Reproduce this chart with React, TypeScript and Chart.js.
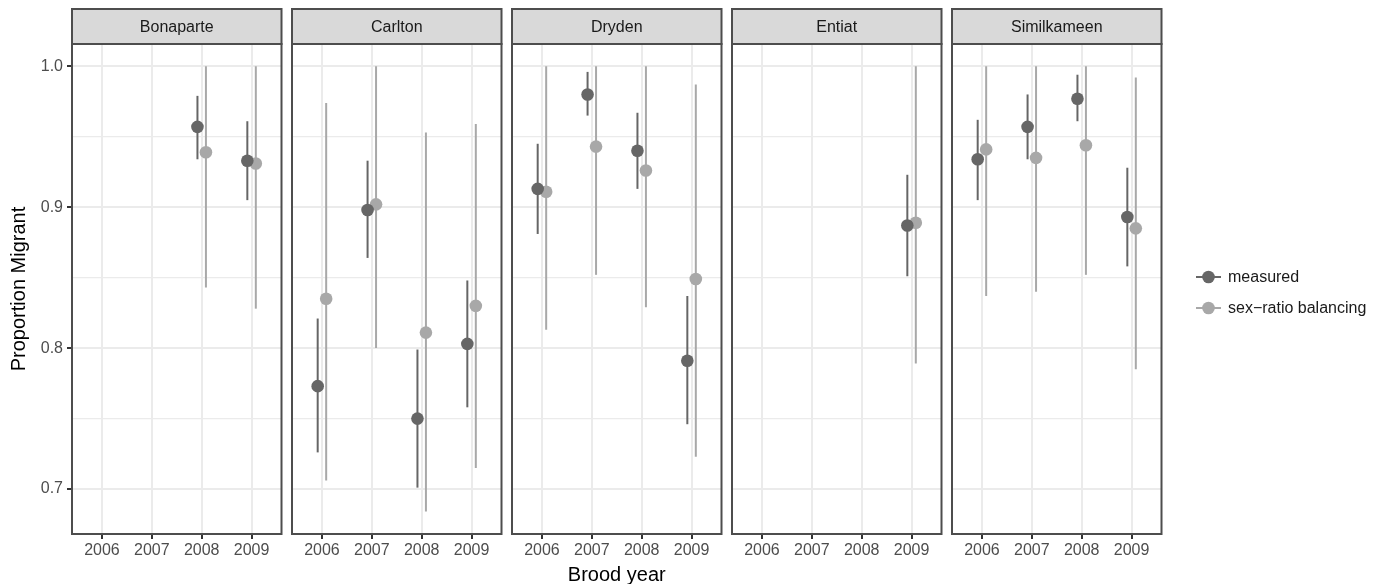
import React, { useEffect, useRef } from 'react';
import { Chart, registerables } from 'chart.js';

Chart.register(...registerables);

// ---------------- data ----------------
const sites = ['Bonaparte', 'Carlton', 'Dryden', 'Entiat', 'Similkameen'];
const years = [2006, 2007, 2008, 2009];
const seriesNames = ['measured', 'sex\u2212ratio balancing'];

// rows = sites, columns = years (null = no estimate)
const measuredEst = [
  [null, null, 0.957, 0.933],
  [0.773, 0.898, 0.750, 0.803],
  [0.913, 0.980, 0.940, 0.791],
  [null, null, null, 0.887],
  [0.934, 0.957, 0.977, 0.893],
];
const measuredLo = [
  [null, null, 0.934, 0.905],
  [0.726, 0.864, 0.701, 0.758],
  [0.881, 0.965, 0.913, 0.746],
  [null, null, null, 0.851],
  [0.905, 0.934, 0.961, 0.858],
];
const measuredHi = [
  [null, null, 0.979, 0.961],
  [0.821, 0.933, 0.799, 0.848],
  [0.945, 0.996, 0.967, 0.837],
  [null, null, null, 0.923],
  [0.962, 0.980, 0.994, 0.928],
];
const sexRatioEst = [
  [null, null, 0.939, 0.931],
  [0.835, 0.902, 0.811, 0.830],
  [0.911, 0.943, 0.926, 0.849],
  [null, null, null, 0.889],
  [0.941, 0.935, 0.944, 0.885],
];
const sexRatioLo = [
  [null, null, 0.843, 0.828],
  [0.706, 0.800, 0.684, 0.715],
  [0.813, 0.852, 0.829, 0.723],
  [null, null, null, 0.789],
  [0.837, 0.840, 0.852, 0.785],
];
const sexRatioHi = [
  [null, null, 1.0, 1.0],
  [0.974, 1.0, 0.953, 0.959],
  [1.0, 1.0, 1.0, 0.987],
  [null, null, null, 1.0],
  [1.0, 1.0, 1.0, 0.992],
];

const yMajorTicks = [0.7, 0.8, 0.9, 1.0];
const yMinorTicks = [0.75, 0.85, 0.95];

// ---------------- layout / style ----------------
const W = 1383;
const H = 584;
const panelLefts = [72, 292, 512, 732, 952];
const panelWidth = 209.5;
const panelTop = 44;
const panelBottom = 534;
const stripTop = 9;
const yMin = 0.6681;
const yMax = 1.0158;
const xMin = 2005.4;
const xMax = 2009.6;
const dodge = 0.085;
const FONT = "'Liberation Sans', Arial, Helvetica, sans-serif";
const DARK = '#666666';
const LIGHT = '#A8A8A8';
const seriesColors = [DARK, LIGHT];
const BORDER = '#4D4D4D';
const GRID = '#EBEBEB';

function buildPoints(est: (number | null)[], lo: (number | null)[], hi: (number | null)[], offset: number) {
  const pts: any[] = [];
  years.forEach((yr, j) => {
    if (est[j] != null) pts.push({ x: yr + offset, y: est[j], lo: lo[j], hi: hi[j] });
  });
  return pts;
}

const errorBarPlugin = {
  id: 'errorBars',
  beforeDatasetsDraw(chart: any) {
    const ctx = chart.ctx;
    const yScale = chart.scales.y;
    ctx.save();
    // draw in reverse dataset order (same as Chart.js point order)
    for (let d = chart.data.datasets.length - 1; d >= 0; d--) {
      const ds = chart.data.datasets[d];
      const meta = chart.getDatasetMeta(d);
      ctx.strokeStyle = ds.borderColor;
      ctx.lineWidth = 2;
      meta.data.forEach((el: any, k: number) => {
        const p = ds.data[k];
        ctx.beginPath();
        ctx.moveTo(el.x, yScale.getPixelForValue(p.lo));
        ctx.lineTo(el.x, yScale.getPixelForValue(p.hi));
        ctx.stroke();
      });
    }
    ctx.restore();
  },
};

const panelDecoPlugin = {
  id: 'panelDeco',
  afterDraw(chart: any, _args: any, opts: any) {
    const ctx = chart.ctx;
    const a = chart.chartArea;
    ctx.save();
    // panel border
    ctx.strokeStyle = BORDER;
    ctx.lineWidth = 2;
    ctx.strokeRect(a.left, a.top, a.right - a.left, a.bottom - a.top);
    // strip
    ctx.fillStyle = '#D9D9D9';
    ctx.fillRect(a.left, stripTop, a.right - a.left, a.top - stripTop);
    ctx.strokeRect(a.left, stripTop, a.right - a.left, a.top - stripTop);
    ctx.fillStyle = '#1A1A1A';
    ctx.font = `16px ${FONT}`;
    ctx.textAlign = 'center';
    ctx.textBaseline = 'middle';
    ctx.fillText(opts.title, (a.left + a.right) / 2, (stripTop + a.top) / 2 + 1);

    if (opts.first) {
      ctx.fillStyle = '#000000';
      ctx.font = `20px ${FONT}`;
      ctx.textAlign = 'center';
      ctx.textBaseline = 'middle';
      ctx.fillText('Brood year', (panelLefts[0] + panelLefts[4] + panelWidth) / 2, 575);
      ctx.save();
      ctx.translate(19, (panelTop + panelBottom) / 2);
      ctx.rotate(-Math.PI / 2);
      ctx.fillText('Proportion Migrant', 0, 0);
      ctx.restore();
    }
    if (opts.last) {
      const rows = [277, 308];
      seriesNames.forEach((name, i) => {
        const y = rows[i];
        ctx.strokeStyle = seriesColors[i];
        ctx.lineWidth = 2;
        ctx.beginPath();
        ctx.moveTo(1196, y);
        ctx.lineTo(1221, y);
        ctx.stroke();
        ctx.fillStyle = seriesColors[i];
        ctx.beginPath();
        ctx.arc(1208.5, y, 6.3, 0, Math.PI * 2);
        ctx.fill();
        ctx.fillStyle = '#1A1A1A';
        ctx.font = `16px ${FONT}`;
        ctx.textAlign = 'left';
        ctx.textBaseline = 'middle';
        ctx.fillText(name, 1228, y + 1);
      });
    }
    ctx.restore();
  },
};

function Panel({ index }: { index: number }) {
  const ref = useRef<HTMLCanvasElement | null>(null);
  useEffect(() => {
    if (!ref.current) return;
    const first = index === 0;
    const last = index === sites.length - 1;
    const left = panelLefts[index];
    const isMajor = (v: number) => yMajorTicks.some((t) => Math.abs(t - v) < 1e-6);
    const chart = new Chart(ref.current, {
      type: 'scatter',
      data: {
        datasets: [
          {
            label: seriesNames[0],
            data: buildPoints(measuredEst[index], measuredLo[index], measuredHi[index], -dodge),
            backgroundColor: DARK,
            borderColor: DARK,
            pointRadius: 6.3,
            pointBorderWidth: 0,
            pointHoverRadius: 6.3,
          },
          {
            label: seriesNames[1],
            data: buildPoints(sexRatioEst[index], sexRatioLo[index], sexRatioHi[index], dodge),
            backgroundColor: LIGHT,
            borderColor: LIGHT,
            pointRadius: 6.3,
            pointBorderWidth: 0,
            pointHoverRadius: 6.3,
          },
        ],
      },
      options: {
        animation: false,
        responsive: false,
        maintainAspectRatio: false,
        devicePixelRatio: 1,
        events: [],
        layout: {
          padding: {
            left: first ? 0 : left,
            right: W - (left + panelWidth),
            top: panelTop,
            bottom: 0,
          },
        },
        plugins: {
          legend: { display: false },
          tooltip: { enabled: false },
          title: { display: false },
          panelDeco: { title: sites[index], first, last },
        } as any,
        scales: {
          x: {
            type: 'linear',
            min: xMin,
            max: xMax,
            afterBuildTicks: (s: any) => {
              s.ticks = years.map((v) => ({ value: v }));
            },
            afterFit: (s: any) => {
              s.height = H - panelBottom;
            },
            border: { display: false },
            grid: {
              color: GRID,
              lineWidth: 2,
              tickLength: 5,
              tickColor: '#333333',
              tickWidth: 2,
            } as any,
            ticks: {
              color: '#4D4D4D',
              font: { family: FONT, size: 16 },
              padding: 2,
              maxRotation: 0,
              autoSkip: false,
              callback: (v: any) => String(v),
            },
          },
          y: {
            type: 'linear',
            min: yMin,
            max: yMax,
            afterBuildTicks: (s: any) => {
              s.ticks = [...yMajorTicks, ...yMinorTicks].sort((a, b) => a - b).map((v) => ({ value: v }));
            },
            afterFit: (s: any) => {
              s.width = first ? left : 0;
            },
            border: { display: false },
            grid: {
              color: GRID,
              lineWidth: (c: any) => (isMajor(c.tick.value) ? 2 : 1.2),
              drawTicks: first,
              tickLength: 5,
              tickWidth: 2,
              tickColor: (c: any) => (isMajor(c.tick.value) ? '#333333' : 'rgba(0,0,0,0)'),
            } as any,
            ticks: {
              display: first,
              color: '#4D4D4D',
              font: { family: FONT, size: 16 },
              padding: 4,
              autoSkip: false,
              callback: (v: any) => (isMajor(Number(v)) ? Number(v).toFixed(1) : ''),
            },
          },
        },
      },
      plugins: [errorBarPlugin, panelDecoPlugin],
    } as any);
    return () => chart.destroy();
  }, [index]);
  return (
    <canvas
      ref={ref}
      width={W}
      height={H}
      style={{ position: 'absolute', left: 0, top: 0, width: W, height: H }}
    />
  );
}

export default function App() {
  useEffect(() => {
    document.body.style.margin = '0';
    document.body.style.background = '#ffffff';
  }, []);
  return (
    <div style={{ position: 'relative', width: W, height: H, background: '#ffffff' }}>
      {sites.map((s, i) => (
        <Panel key={s} index={i} />
      ))}
    </div>
  );
}
